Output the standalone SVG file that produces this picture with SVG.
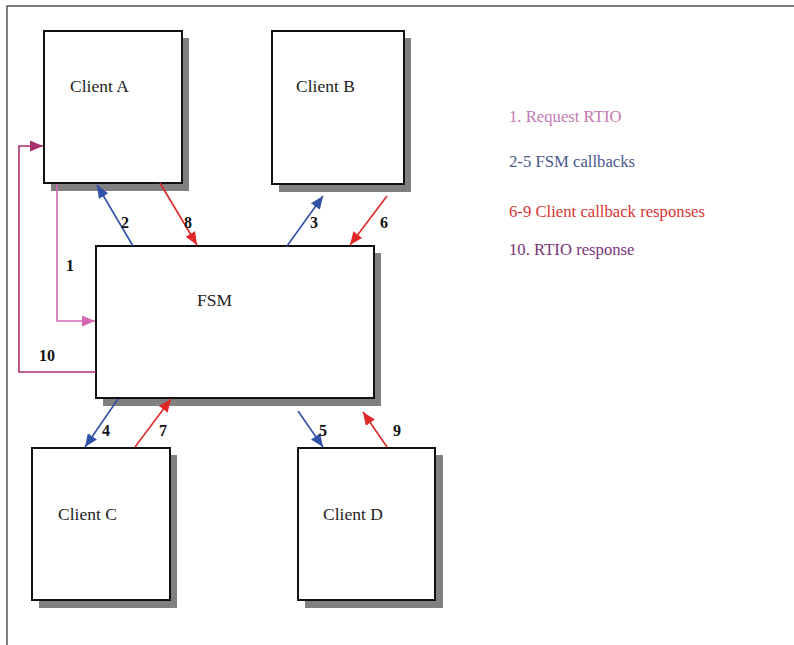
<svg xmlns="http://www.w3.org/2000/svg" width="794" height="645" viewBox="0 0 794 645">
<style>
.box{fill:#fff;stroke:#111;stroke-width:2}
.sh{fill:#808080}
text{font-family:"Liberation Serif","DejaVu Serif","Times New Roman",serif}
.lbl{font-size:17.5px;fill:#222}
.num{font-size:16px;font-weight:bold;fill:#111}
.leg{font-size:16.7px}
.c{fill:none;stroke-width:1.6}
</style>
<defs>
<marker id="mb" viewBox="0 0 13 11" refX="13" refY="5.5" markerWidth="13" markerHeight="11" markerUnits="userSpaceOnUse" orient="auto"><path d="M0,0L13,5.5L0,11z" fill="#2f52a8"/></marker>
<marker id="mr" viewBox="0 0 13 11" refX="13" refY="5.5" markerWidth="13" markerHeight="11" markerUnits="userSpaceOnUse" orient="auto"><path d="M0,0L13,5.5L0,11z" fill="#e02828"/></marker>
<marker id="mp" viewBox="0 0 13 11" refX="13" refY="5.5" markerWidth="13" markerHeight="11" markerUnits="userSpaceOnUse" orient="auto"><path d="M0,0L13,5.5L0,11z" fill="#d468b0"/></marker>
<marker id="mm" viewBox="0 0 13 11" refX="13" refY="5.5" markerWidth="13" markerHeight="11" markerUnits="userSpaceOnUse" orient="auto"><path d="M0,0L13,5.5L0,11z" fill="#a8306e"/></marker>
</defs>
<rect width="794" height="645" fill="#fff"/>
<path d="M7,645V6H794" fill="none" stroke="#555" stroke-width="1.5"/>

<g id="clientA">
<rect class="sh" x="51" y="38" width="138" height="153"/>
<rect class="box" x="44" y="31" width="138" height="152"/>
<text class="lbl" x="70" y="92">Client A</text>
</g>
<g id="clientB">
<rect class="sh" x="279" y="38" width="132" height="154"/>
<rect class="box" x="272" y="31" width="132" height="153"/>
<text class="lbl" x="296" y="92">Client B</text>
</g>
<g id="fsm">
<rect class="sh" x="103" y="253" width="278" height="153"/>
<rect class="box" x="96" y="246" width="278" height="152"/>
<text class="lbl" x="197" y="306">FSM</text>
</g>
<g id="clientC">
<rect class="sh" x="39" y="455" width="138" height="153"/>
<rect class="box" x="32" y="448" width="138" height="152"/>
<text class="lbl" x="58" y="520">Client C</text>
</g>
<g id="clientD">
<rect class="sh" x="305" y="455" width="138" height="153"/>
<rect class="box" x="298" y="448" width="137" height="152"/>
<text class="lbl" x="323" y="520">Client D</text>
</g>

<g id="connectors">
<path class="c" d="M133,246L97,185" stroke="#2f52a8" marker-end="url(#mb)"/>
<path class="c" d="M160,183L197,245" stroke="#e02828" marker-end="url(#mr)"/>
<path class="c" d="M287,246L323,196" stroke="#2f52a8" marker-end="url(#mb)"/>
<path class="c" d="M387,196L350,245" stroke="#e02828" marker-end="url(#mr)"/>
<path class="c" d="M57,184V321H95" stroke="#d468b0" marker-end="url(#mp)"/>
<path class="c" d="M96,372H19V146H43" stroke="#a8306e" marker-end="url(#mm)"/>
<path class="c" d="M118,399L85,447" stroke="#2f52a8" marker-end="url(#mb)"/>
<path class="c" d="M135,447L171,399" stroke="#e02828" marker-end="url(#mr)"/>
<path class="c" d="M298,411L323,447" stroke="#2f52a8" marker-end="url(#mb)"/>
<path class="c" d="M387,447L363,412" stroke="#e02828" marker-end="url(#mr)"/>
<text class="num" x="125" y="228" text-anchor="middle">2</text>
<text class="num" x="188" y="228" text-anchor="middle">8</text>
<text class="num" x="314" y="228" text-anchor="middle">3</text>
<text class="num" x="384" y="228" text-anchor="middle">6</text>
<text class="num" x="70" y="271" text-anchor="middle">1</text>
<text class="num" x="47" y="361" text-anchor="middle">10</text>
<text class="num" x="106" y="436" text-anchor="middle">4</text>
<text class="num" x="163" y="436" text-anchor="middle">7</text>
<text class="num" x="323" y="436" text-anchor="middle">5</text>
<text class="num" x="397" y="436" text-anchor="middle">9</text>
</g>

<g id="legend">
<text class="leg" x="509" y="122" fill="#c47ab0">1. Request RTIO</text>
<text class="leg" x="509" y="167" fill="#4a5a8e">2-5 FSM callbacks</text>
<text class="leg" x="509" y="217" fill="#d83434">6-9 Client callback responses</text>
<text class="leg" x="509" y="255" fill="#7a3478">10. RTIO response</text>
</g>
</svg>
